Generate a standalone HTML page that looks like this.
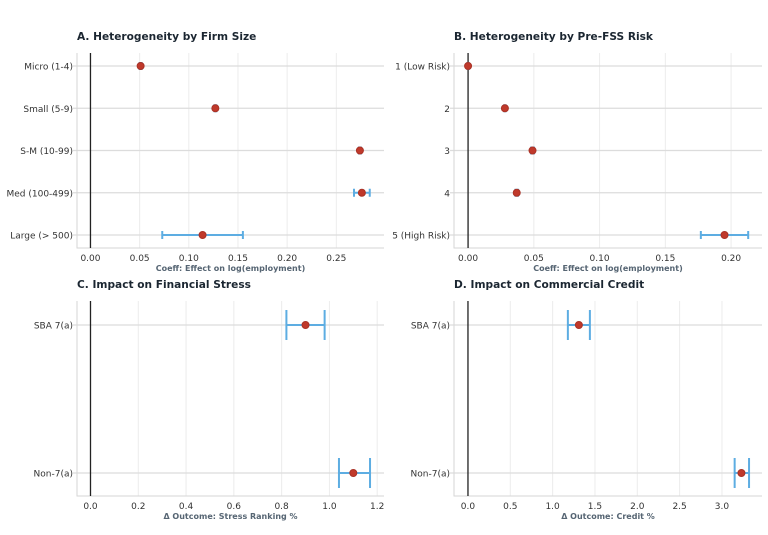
<!DOCTYPE html>
<html><head><meta charset="utf-8"><style>
body{margin:0;background:#fff;}
svg{display:block;font-family:"DejaVu Sans","Liberation Sans",sans-serif;}
</style></head><body>
<svg id="fig" width="768" height="535" viewBox="0 0 768 535" xmlns="http://www.w3.org/2000/svg"></svg>
<script>
const catsA = ["Micro (1-4)","Small (5-9)","S-M (10-99)","Med (100-499)","Large (> 500)"];
const estA = [0.051,0.127,0.274,0.276,0.114];
const loA = [0.050,0.126,0.273,0.268,0.073];
const hiA = [0.052,0.128,0.275,0.284,0.155];
const ticksA = [0,0.05,0.10,0.15,0.20,0.25];
const tickLabA = ["0.00","0.05","0.10","0.15","0.20","0.25"];

const catsB = ["1 (Low Risk)","2","3","4","5 (High Risk)"];
const estB = [0.000,0.028,0.049,0.037,0.195];
const loB = [-0.0005,0.0275,0.048,0.036,0.177];
const hiB = [0.0005,0.0285,0.050,0.038,0.213];
const ticksB = [0,0.05,0.10,0.15,0.20];
const tickLabB = ["0.00","0.05","0.10","0.15","0.20"];

const catsC = ["SBA 7(a)","Non-7(a)"];
const estC = [0.90,1.10];
const loC = [0.82,1.04];
const hiC = [0.98,1.17];
const ticksC = [0,0.2,0.4,0.6,0.8,1.0,1.2];
const tickLabC = ["0.0","0.2","0.4","0.6","0.8","1.0","1.2"];

const catsD = ["SBA 7(a)","Non-7(a)"];
const estD = [1.31,3.23];
const loD = [1.18,3.15];
const hiD = [1.44,3.32];
const ticksD = [0,0.5,1.0,1.5,2.0,2.5,3.0];
const tickLabD = ["0.0","0.5","1.0","1.5","2.0","2.5","3.0"];

const NS="http://www.w3.org/2000/svg";
const svg=document.getElementById('fig');
function mk(tag,attrs,parent){const e=document.createElementNS(NS,tag);for(const k in attrs)e.setAttribute(k,attrs[k]);(parent||svg).appendChild(e);return e;}

function panel(cfg){
  const g=mk('g',{});
  
  
  const {L,R,T,B,xmin,xmax,rowY0,rowY1,cats,est,lo,hi,ticks,tickLab,cap}=cfg;
  const xs=v=>L+(v-xmin)/(xmax-xmin)*(R-L);
  const n=cats.length;
  const ys=i=>n===1?rowY0:rowY0+i*(rowY1-rowY0)/(n-1);
  ticks.forEach(t=>{const l=mk('line',{x1:xs(t),x2:xs(t),y1:T,y2:B,stroke:'#ececec','stroke-width':1},g);
    });
  cats.forEach((c,i)=>{const l=mk('line',{x1:L-4,x2:R,y1:ys(i),y2:ys(i),stroke:'#dcdcdc','stroke-width':1.2},g);
    });
  const sp=mk('path',{d:`M${L} ${T}V${B}H${R}`,stroke:'#d6d6d6',fill:'none','stroke-width':1},g);
  
  const z=mk('line',{x1:xs(0),x2:xs(0),y1:T,y2:B,stroke:'#222','stroke-width':1.3},g);
  
  const tt=mk('text',{x:L,y:T-13,'font-size':10.6,'font-weight':'bold',fill:'#1b2631'},g);tt.textContent=cfg.title;
  
  cats.forEach((c,i)=>{const t=mk('text',{x:L-4,y:ys(i)+3.5,'font-size':9,fill:'#333','text-anchor':'end'},g);t.textContent=c;
    });
  ticks.forEach((tv,i)=>{const t=mk('text',{x:xs(tv),y:B+13,'font-size':9,fill:'#333','text-anchor':'middle'},g);t.textContent=tickLab[i];
    });
  const xl=mk('text',{x:(L+R)/2,y:B+23,'font-size':8,'font-weight':'bold',fill:'#566573','text-anchor':'middle'},g);xl.textContent=cfg.xlabel;
  
  cats.forEach((c,i)=>{const y=ys(i);
    const e=mk('path',{d:`M${xs(lo[i])} ${y}H${xs(hi[i])}M${xs(lo[i])} ${y-cap}V${y+cap}M${xs(hi[i])} ${y-cap}V${y+cap}`,stroke:'#5dade2','stroke-width':2,fill:'none'},g);
    
    const d=mk('circle',{cx:xs(est[i]),cy:y,r:3.5,fill:'#c0392b',stroke:'#a93226','stroke-width':1},g);
    
  });
}
panel({name:'panel-a-firm-size',title:'A. Heterogeneity by Firm Size',xlabel:'Coeff: Effect on log(employment)',L:77,R:384,T:53,B:248,xmin:-0.0137,xmax:0.2985,rowY0:66,rowY1:235,cats:catsA,est:estA,lo:loA,hi:hiA,ticks:ticksA,tickLab:tickLabA,cap:4});
panel({name:'panel-b-risk',title:'B. Heterogeneity by Pre-FSS Risk',xlabel:'Coeff: Effect on log(employment)',L:454,R:762,T:53,B:248,xmin:-0.0107,xmax:0.2235,rowY0:66,rowY1:235,cats:catsB,est:estB,lo:loB,hi:hiB,ticks:ticksB,tickLab:tickLabB,cap:4});
panel({name:'panel-c-financial-stress',title:'C. Impact on Financial Stress',xlabel:'Δ Outcome: Stress Ranking %',L:77,R:384,T:301,B:496,xmin:-0.0565,xmax:1.2285,rowY0:325,rowY1:473,cats:catsC,est:estC,lo:loC,hi:hiC,ticks:ticksC,tickLab:tickLabC,cap:15});
panel({name:'panel-d-commercial-credit',title:'D. Impact on Commercial Credit',xlabel:'Δ Outcome: Credit %',L:454,R:762,T:301,B:496,xmin:-0.165,xmax:3.473,rowY0:325,rowY1:473,cats:catsD,est:estD,lo:loD,hi:hiD,ticks:ticksD,tickLab:tickLabD,cap:15});
</script>
</body></html>
